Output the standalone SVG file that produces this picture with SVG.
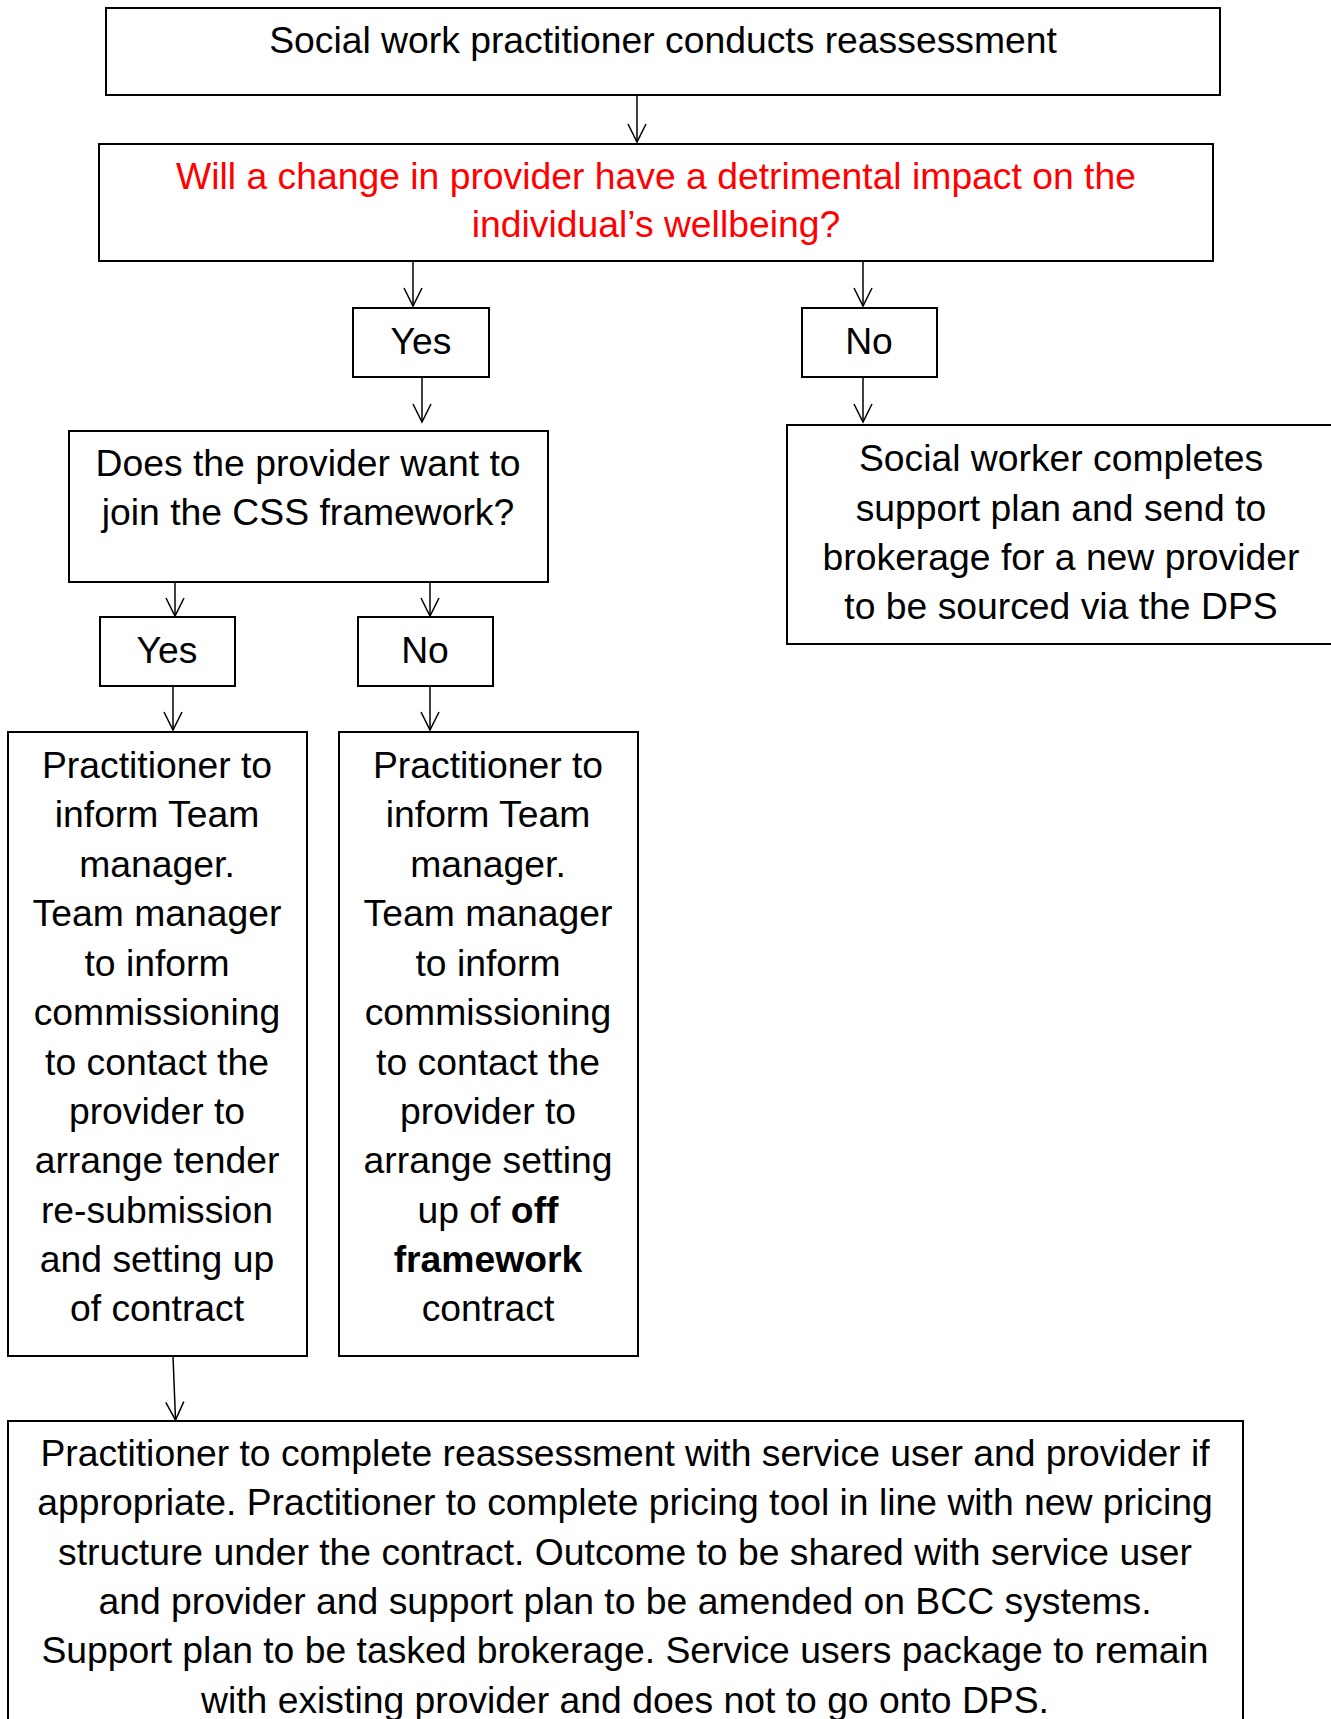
<svg xmlns="http://www.w3.org/2000/svg" width="1331" height="1719" viewBox="0 0 1331 1719">
<style>
.box{fill:#fff;stroke:#000;stroke-width:2}
.t{font-family:"Liberation Sans",Arial,sans-serif;font-size:37.3px;fill:#000;text-anchor:middle}
.red{fill:#ff0000}
.b{font-weight:bold}
.c{fill:none;stroke:#000;stroke-width:1.5}
</style>
<defs>
<marker id="ah" markerUnits="userSpaceOnUse" markerWidth="22" markerHeight="22" viewBox="-20 -11 22 22" refX="0" refY="0" orient="auto">
<path d="M-18,-9 L0,0 L-18,9" fill="none" stroke="#000" stroke-width="1.5"/>
</marker>
</defs>
<rect width="1331" height="1719" fill="#fff"/>
<g id="n1"><rect class="box" x="106" y="8" width="1114" height="87"/><text class="t" x="663" y="53">Social work practitioner conducts reassessment</text></g>
<g id="n2"><rect class="box" x="99" y="144" width="1114" height="117"/><text class="t red" x="656" y="189">Will a change in provider have a detrimental impact on the</text><text class="t red" x="656" y="237">individual’s wellbeing?</text></g>
<g id="yes1"><rect class="box" x="353" y="308" width="136" height="69"/><text class="t" x="421" y="354">Yes</text></g>
<g id="no1"><rect class="box" x="802" y="308" width="135" height="69"/><text class="t" x="869" y="354">No</text></g>
<g id="n3"><rect class="box" x="69" y="431" width="479" height="151"/><text class="t" x="308" y="476">Does the provider want to</text><text class="t" x="308" y="525">join the CSS framework?</text></g>
<g id="n4"><rect class="box" x="787" y="425" width="560" height="219"/><text class="t" x="1061" y="471">Social worker completes</text><text class="t" x="1061" y="521">support plan and send to</text><text class="t" x="1061" y="570">brokerage for a new provider</text><text class="t" x="1061" y="619">to be sourced via the DPS</text></g>
<g id="yes2"><rect class="box" x="100" y="617" width="135" height="69"/><text class="t" x="167" y="663">Yes</text></g>
<g id="no2"><rect class="box" x="358" y="617" width="135" height="69"/><text class="t" x="425" y="663">No</text></g>
<g id="n5"><rect class="box" x="8" y="732" width="299" height="624"/>
<text class="t" x="157" y="778">Practitioner to</text>
<text class="t" x="157" y="827">inform Team</text>
<text class="t" x="157" y="877">manager.</text>
<text class="t" x="157" y="926">Team manager</text>
<text class="t" x="157" y="976">to inform</text>
<text class="t" x="157" y="1025">commissioning</text>
<text class="t" x="157" y="1075">to contact the</text>
<text class="t" x="157" y="1124">provider to</text>
<text class="t" x="157" y="1173">arrange tender</text>
<text class="t" x="157" y="1223">re-submission</text>
<text class="t" x="157" y="1272">and setting up</text>
<text class="t" x="157" y="1321">of contract</text>
</g>
<g id="n6"><rect class="box" x="339" y="732" width="299" height="624"/>
<text class="t" x="488" y="778">Practitioner to</text>
<text class="t" x="488" y="827">inform Team</text>
<text class="t" x="488" y="877">manager.</text>
<text class="t" x="488" y="926">Team manager</text>
<text class="t" x="488" y="976">to inform</text>
<text class="t" x="488" y="1025">commissioning</text>
<text class="t" x="488" y="1075">to contact the</text>
<text class="t" x="488" y="1124">provider to</text>
<text class="t" x="488" y="1173">arrange setting</text>
<text class="t" x="488" y="1223">up of <tspan class="b">off</tspan></text>
<text class="t b" x="488" y="1272">framework</text>
<text class="t" x="488" y="1321">contract</text>
</g>
<g id="n7"><rect class="box" x="8" y="1421" width="1235" height="320"/>
<text class="t" x="625" y="1466">Practitioner to complete reassessment with service user and provider if</text>
<text class="t" x="625" y="1515">appropriate. Practitioner to complete pricing tool in line with new pricing</text>
<text class="t" x="625" y="1565">structure under the contract. Outcome to be shared with service user</text>
<text class="t" x="625" y="1614">and provider and support plan to be amended on BCC systems.</text>
<text class="t" x="625" y="1663">Support plan to be tasked brokerage. Service users package to remain</text>
<text class="t" x="625" y="1713">with existing provider and does not to go onto DPS.</text>
</g>
<g id="connectors">
<line class="c" x1="637" y1="95" x2="637" y2="142" marker-end="url(#ah)"/>
<line class="c" x1="413" y1="261" x2="413" y2="306" marker-end="url(#ah)"/>
<line class="c" x1="863" y1="261" x2="863" y2="306" marker-end="url(#ah)"/>
<line class="c" x1="422" y1="377" x2="422" y2="422" marker-end="url(#ah)"/>
<line class="c" x1="863" y1="377" x2="863" y2="422" marker-end="url(#ah)"/>
<line class="c" x1="175" y1="582" x2="175" y2="616" marker-end="url(#ah)"/>
<line class="c" x1="430" y1="582" x2="430" y2="616" marker-end="url(#ah)"/>
<line class="c" x1="173" y1="686" x2="173" y2="730" marker-end="url(#ah)"/>
<line class="c" x1="430" y1="686" x2="430" y2="730" marker-end="url(#ah)"/>
<line class="c" x1="173" y1="1356" x2="175.5" y2="1420" marker-end="url(#ah)"/>
</g>
</svg>
